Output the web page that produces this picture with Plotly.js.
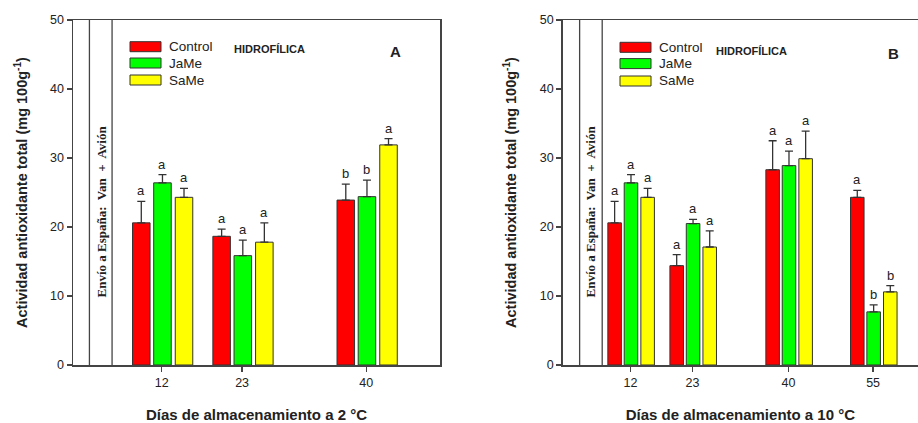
<!DOCTYPE html>
<html>
<head>
<meta charset="utf-8">
<script src="https://cdn.plot.ly/plotly-3.0.1.min.js"></script>
<style>html,body{margin:0;padding:0;background:#fff;}#chart{width:918px;height:423px;}</style>
</head>
<body>
<div id="chart"></div>
<script>
// ---------- data ----------
const seriesNames = ["Control", "JaMe", "SaMe"];
const seriesColors = ["#FF0000", "#00FF00", "#FFFF00"];

// Panel A (2 °C)
const daysA = [12, 23, 40];
const controlA = [20.6, 18.65, 23.9];
const jameA = [26.4, 15.85, 24.4];
const sameA = [24.3, 17.8, 31.9];
const controlA_err = [3.1, 1.05, 2.3];
const jameA_err = [1.2, 2.25, 2.4];
const sameA_err = [1.3, 2.8, 0.9];
const controlA_let = ["a", "a", "b"];
const jameA_let = ["a", "a", "b"];
const sameA_let = ["a", "a", "a"];

// Panel B (10 °C)
const daysB = [12, 23, 40, 55];
const controlB = [20.6, 14.4, 28.3, 24.3];
const jameB = [26.4, 20.5, 28.9, 7.7];
const sameB = [24.3, 17.1, 29.9, 10.6];
const controlB_err = [3.1, 1.6, 4.2, 1.0];
const jameB_err = [1.2, 0.6, 2.1, 1.0];
const sameB_err = [1.3, 2.35, 4.0, 0.9];
const controlB_let = ["a", "a", "a", "a"];
const jameB_let = ["a", "a", "a", "b"];
const sameB_let = ["a", "a", "a", "b"];

const xTitleA = "Días de almacenamiento a 2 °C";
const xTitleB = "Días de almacenamiento a 10 °C";
const yTitle = "Actividad antioxidante total (mg 100g<sup>-1</sup>)";
const shipText = "Envío a España:  Van  +  Avión";
const panelTag = "HIDROFÍLICA";

// ---------- styling ----------
const FONT = "Liberation Sans, Arial, sans-serif";
const TXT = "#222";
const AXC = "#444";
const barWidth = 2.4;
const barOffsets = [-4.0, -1.1, 1.85];

const traces = [];
const annotations = [];
function addPanel(days, vals, errs, lets, xa, ya) {
  vals.forEach((v, s) => {
    traces.push({
      type: "bar", x: days, y: v, xaxis: xa, yaxis: ya,
      name: seriesNames[s], showlegend: false,
      width: barWidth, offset: barOffsets[s],
      marker: {color: seriesColors[s], line: {color: "#333", width: 1}},
      error_y: {type: "data", symmetric: false, array: errs[s], arrayminus: days.map(() => 0),
                color: "#333", thickness: 1.3, width: 4}
    });
    days.forEach((d, i) => {
      annotations.push({
        xref: xa, yref: ya, x: d + barOffsets[s] + barWidth / 2, y: v[i] + errs[s][i],
        text: lets[s][i], showarrow: false, xanchor: "center", yanchor: "bottom", yshift: 1,
        font: {family: FONT, size: 13, color: TXT}
      });
    });
  });
}
addPanel(daysA, [controlA, jameA, sameA], [controlA_err, jameA_err, sameA_err],
         [controlA_let, jameA_let, sameA_let], "x", "y");
addPanel(daysB, [controlB, jameB, sameB], [controlB_err, jameB_err, sameB_err],
         [controlB_let, jameB_let, sameB_let], "x2", "y2");

const W = 918, H = 423;
const px = v => v / W, py = v => 1 - v / H;

const shapes = [];
// shipment band lines
[[2.1, 5.2, "x", "y"], [3, 7, "x2", "y2"]].forEach(([a, b, xa, ya]) => {
  [a, b].forEach(xv => shapes.push({type: "line", xref: xa, yref: ya, x0: xv, x1: xv, y0: 0, y1: 50,
                                    line: {color: AXC, width: 1.3}}));
});
// custom legends
function legend(x0, yc) {
  seriesNames.forEach((n, i) => {
    const y = yc[i];
    shapes.push({type: "rect", xref: "paper", yref: "paper", x0: px(x0), x1: px(x0 + 31),
                 y0: py(y + 5), y1: py(y - 5), fillcolor: seriesColors[i],
                 line: {color: "#333", width: 1}});
    annotations.push({xref: "paper", yref: "paper", x: px(x0 + 37), y: py(y), text: n,
                      showarrow: false, xanchor: "left", yanchor: "middle",
                      font: {family: FONT, size: 13.5, color: TXT}});
  });
}
legend(130, [46.7, 63, 80]);
legend(620, [47.3, 63.6, 81]);

// panel texts
function note(x, y, text, size, extra) {
  annotations.push(Object.assign({xref: "paper", yref: "paper", x: px(x), y: py(y), text: text,
    showarrow: false, xanchor: "center", yanchor: "middle",
    font: {family: FONT, size: size, color: TXT}}, extra || {}));
}
note(269.5, 49, "<b>" + panelTag + "</b>", 11);
note(751, 50.5, "<b>" + panelTag + "</b>", 11);
note(395, 52, "<b>A</b>", 15);
note(893, 54, "<b>B</b>", 15);
const serif = {textangle: -90, font: {family: "Liberation Serif, Times New Roman, serif", size: 13, color: TXT}};
note(101.5, 212, "<b>" + shipText + "</b>", 13, serif);
note(590.5, 212, "<b>" + shipText + "</b>", 13, serif);

const yAxisBase = {
  range: [0, 50], dtick: 10, ticks: "outside", ticklen: 5, tickwidth: 1.3, tickcolor: AXC,
  showline: true, linecolor: AXC, linewidth: 1.5, showgrid: false, zeroline: false,
  tickfont: {family: FONT, size: 12.5, color: TXT}, automargin: false,
  domain: [py(365), py(20)]
};
const xAxisBase = {
  ticks: "outside", ticklen: 5, tickwidth: 1.3, tickcolor: AXC,
  showline: true, linecolor: AXC, linewidth: 1.5, showgrid: false, zeroline: false,
  tickfont: {family: FONT, size: 12.5, color: TXT}, automargin: false, mirror: true
};

const layout = {
  width: W, height: H, margin: {l: 0, r: 0, t: 0, b: 0},
  paper_bgcolor: "#fff", plot_bgcolor: "#fff", barmode: "overlay", showlegend: false,
  xaxis: Object.assign({}, xAxisBase, {domain: [px(73), px(440)], range: [-0.15, 50.1],
    tickvals: daysA, ticktext: daysA.map(String), anchor: "y",
    title: {text: "<b>" + xTitleA + "</b>", font: {family: FONT, size: 15, color: TXT}, standoff: 23}}),
  yaxis: Object.assign({}, yAxisBase, {anchor: "x", mirror: true,
    title: {text: "<b>" + yTitle + "</b>", font: {family: FONT, size: 14.5, color: TXT}, standoff: 19}}),
  xaxis2: Object.assign({}, xAxisBase, {domain: [px(562.7), 1], range: [0, 62.96],
    tickvals: daysB, ticktext: daysB.map(String), anchor: "y2",
    title: {text: "<b>" + xTitleB + "</b>", font: {family: FONT, size: 15, color: TXT}, standoff: 23}}),
  yaxis2: Object.assign({}, yAxisBase, {anchor: "x2", mirror: false,
    title: {text: "<b>" + yTitle + "</b>", font: {family: FONT, size: 14.5, color: TXT}, standoff: 19}}),
  shapes: shapes, annotations: annotations
};

Plotly.newPlot("chart", traces, layout, {displayModeBar: false, staticPlot: true});
</script>
</body>
</html>
